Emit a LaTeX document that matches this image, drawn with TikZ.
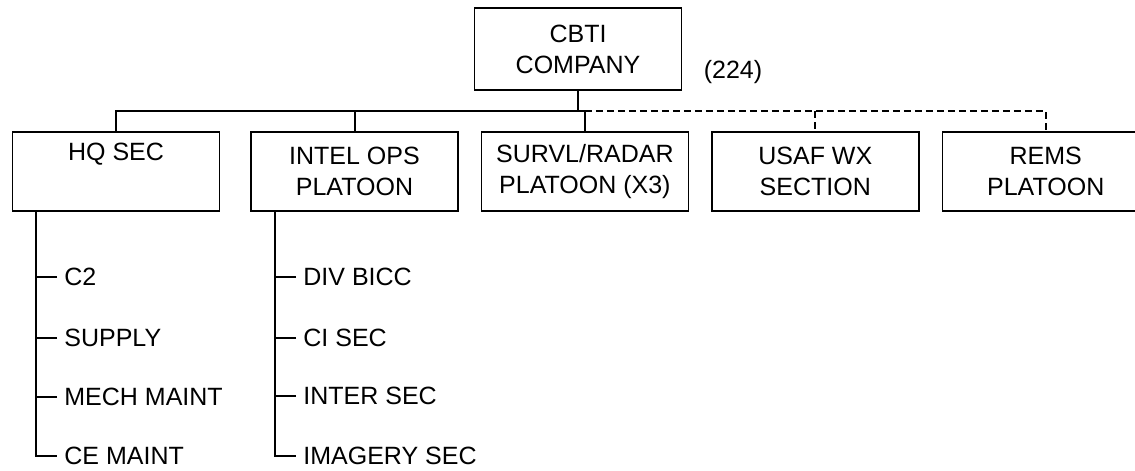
\documentclass[tikz,border=0pt]{standalone}
\usepackage{fontspec}
\setmainfont{Liberation Sans}
\usetikzlibrary{positioning}

\begin{document}
\begin{tikzpicture}[x=0.5pt, y=-0.5pt, font=\fontsize{12.5}{15.5}\selectfont,
    unit/.style={draw, line width=0.7pt, minimum width=103.5pt, minimum height=39.5pt, align=center, inner sep=0pt},
    item/.style={anchor=west, inner xsep=3.5pt, inner ysep=0pt},
    link/.style={line width=1pt},
    tie/.style={line width=1pt, dash pattern=on 3.5pt off 2pt}]
    \useasboundingbox (0,0) rectangle (1135,471);
    % company and its strength
    \node[unit, minimum height=41pt] (cbti) at (578,49) {CBTI\\COMPANY};
    \node (strength) at (733,72) {(224)};
    % platoons and sections
    \node[unit] (hq) at (116,171.5) {HQ SEC\\ \strut};
    \node[unit] (intel) at (354.5,171.5) {INTEL OPS\\PLATOON};
    \node[unit, right=11pt of intel] (survl) {SURVL/RADAR\\PLATOON (X3)};
    \node[unit, right=11pt of survl] (usaf) {USAF WX\\SECTION};
    \node[unit, right=11pt of usaf] (rems) {REMS\\PLATOON};
    \coordinate (bus) at (0,111);
    \draw[link] (cbti.south) -- (cbti.south |- bus);
    \draw[link] (hq.north) |- (survl.north |- bus) -- (survl.north);
    \draw[link] (intel.north) -- (intel.north |- bus);
    \draw[tie] (survl.north |- bus) -| (rems.north);
    \draw[tie] (usaf.north |- bus) -- (usaf.north);
    % HQ SEC elements
    \coordinate (hqspine) at ([xshift=12pt]hq.south west);
    \node[item] (c2) at (57,277) {C2};
    \node[item] (supply) at (57,338) {SUPPLY};
    \node[item] (mechmaint) at (57,397) {MECH MAINT};
    \node[item] (cemaint) at (57,456) {CE MAINT};
    \draw[link] (hqspine) |- (cemaint.west);
    \foreach \n in {c2, supply, mechmaint}
        \draw[link] (\n.west) -- (\n.west -| hqspine);
    % INTEL OPS elements
    \coordinate (intelspine) at ([xshift=12.5pt]intel.south west);
    \node[item] (divbicc) at (296,277) {DIV BICC};
    \node[item] (cisec) at (296,338) {CI SEC};
    \node[item] (intersec) at (296,396) {INTER SEC};
    \node[item] (imagerysec) at (296,456) {IMAGERY SEC};
    \draw[link] (intelspine) |- (imagerysec.west);
    \foreach \n in {divbicc, cisec, intersec}
        \draw[link] (\n.west) -- (\n.west -| intelspine);
\end{tikzpicture}
\end{document}
